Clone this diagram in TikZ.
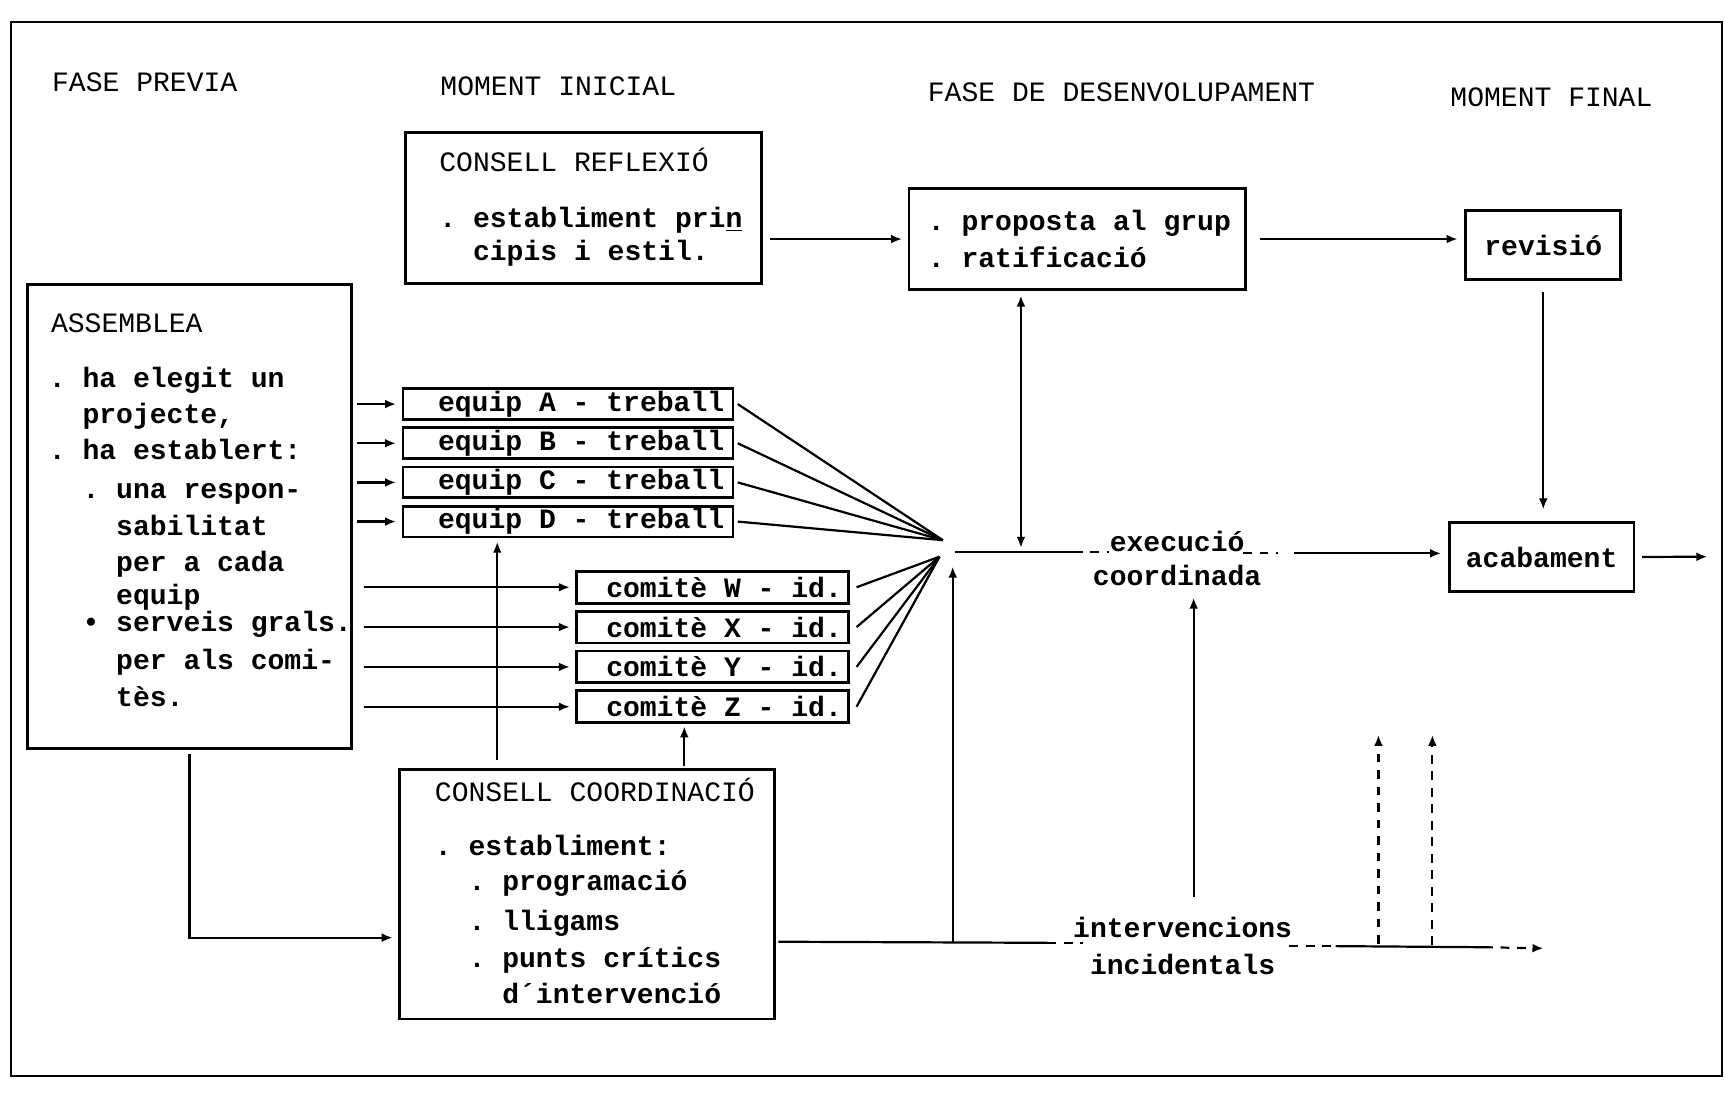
\documentclass[tikz,border=0pt]{standalone}
\usepackage{fontspec}
\setmonofont{Liberation Mono}
\usepackage{tikz}
\usetikzlibrary{positioning, arrows.meta}

\newcommand{\tw}{\fontsize{12.75}{16.5}\selectfont\ttfamily}
\newcommand{\twoch}{\hspace*{1.2em}}
\newcommand{\fourch}{\hspace*{2.4em}}

\tikzset{
  box/.style={draw, line width=1.3pt, inner sep=0pt, anchor=north west, font=\tw\bfseries},
  hdr/.style={inner sep=0pt, anchor=west, font=\tw},
  body/.style={inner sep=0pt, anchor=north west, align=left, font=\tw\bfseries},
  eqbox/.style={minimum height=14pt, text width=142pt, align=flush right, inner xsep=4pt},
  cobox/.style={minimum height=14.5pt, text width=117.5pt, align=flush right, inner xsep=3pt},
  conn/.style={line width=1pt},
  arr/.style={conn, -{Latex[length=5pt,width=4pt]}},
  dsh/.style={conn, dash pattern=on 4pt off 3.5pt},
}

\begin{document}
\begin{tikzpicture}[x=0.5pt, y=-0.5pt]
  \useasboundingbox (0,0) rectangle (1568,997);
  \draw[line width=1pt] (10,20) rectangle (1565,978);

  % phases
  \node[hdr] (hPrev) at (47,75) {FASE PREVIA};
  \node[hdr] (hIni) at (400,78) {MOMENT INICIAL};
  \node[hdr] (hDes) at (843,84) {FASE DE DESENVOLUPAMENT};
  \node[hdr] (hFin) at (1318,88) {MOMENT FINAL};

  % consell reflexio
  \node[box, minimum width=162pt, minimum height=68.5pt] (refl) at (367,119) {};
  \node[hdr] (reflH) at (399,145) {CONSELL REFLEXIÓ};
  \node[body] (reflT) at (399,188) {. establiment pri\underline{n}\\[-1.5pt]\twoch cipis i estil.};

  \node[box, minimum width=153pt, minimum height=46pt] (prop) at (825,170) {};
  \node[body] (propT) at (843,191) {. proposta al grup\\. ratificació};

  \node[box, minimum width=70.5pt, minimum height=31.5pt] (rev) at (1331,190) {revisió};
  \node[box, minimum width=84pt, minimum height=31pt] (acab) at (1316,474) {acabament};

  % assemblea
  \node[box, minimum width=147pt, minimum height=211pt] (asm) at (24,257) {};
  \node[hdr] (asmH) at (46,294) {ASSEMBLEA};
  \node[body] (asmT) at (44,333) {. ha elegit un\\
    \twoch projecte,\\
    . ha establert:\\[1pt]
    \twoch . una respon-\\[0.5pt]
    \fourch sabilitat\\
    \fourch per a cada\\[-1.5pt]
    \fourch equip\\[-4.5pt]
    \twoch • serveis grals.\\[1pt]
    \fourch per als comi-\\
    \fourch tès.};

  % equips i comites
  \node[box, eqbox] (eqA) at (365,352) {equip A - treball};
  \node[box, eqbox, below=2.5pt of eqA] (eqB) {equip B - treball};
  \node[box, eqbox, below=2.5pt of eqB] (eqC) {equip C - treball};
  \node[box, eqbox, below=2.5pt of eqC] (eqD) {equip D - treball};

  \node[box, cobox] (coW) at (523,518) {comitè W - id.};
  \node[box, cobox, below=2.3pt of coW] (coX) {comitè X - id.};
  \node[box, cobox, below=2.3pt of coX] (coY) {comitè Y - id.};
  \node[box, cobox, below=2.3pt of coY] (coZ) {comitè Z - id.};

  % consell coordinacio
  \node[box, minimum width=170.5pt, minimum height=113.5pt] (cc) at (362,698) {};
  \node[hdr] (ccH) at (395,718) {CONSELL COORDINACIÓ};
  \node[body] (ccT) at (395,759) {. establiment:\\[-0.5pt]
    \twoch . programació\\[1.5pt]
    \twoch . lligams\\[0.5pt]
    \twoch . punts crítics\\[-0.5pt]
    \fourch d´intervenció};

  % labels on the lines
  \node[align=center, inner sep=0pt, font=\tw\bfseries] (exec) at (1070,508) {execució\\[-1pt]coordinada};
  \node[align=center, inner sep=0pt, font=\tw\bfseries] (interv) at (1075,860) {intervencions\\[0.5pt]incidentals};

  \coordinate (fanE) at (857,491);
  \coordinate (fanC) at (854,506);
  \coordinate (pv) at (928,498);
  \coordinate (exA) at (868,502);
  \coordinate (exB) at (976,502);
  \coordinate (exC) at (1008,502);
  \coordinate (exD) at (1130,503);
  \coordinate (exE) at (1162,503);
  \coordinate (exF) at (1176,503);
  \coordinate (bA) at (705,856);
  \coordinate (bB) at (952,857);
  \coordinate (bD) at (984,857);
  \coordinate (bE) at (1172,860);
  \coordinate (bG) at (1214,860);
  \coordinate (bH) at (1349,861);
  \coordinate (bJ) at (1403,862);
  \coordinate (iu) at (866,856);
  \coordinate (iv) at (1085,815);
  \coordinate (ccA) at (452,691);
  \coordinate (ccB) at (622,696);
  \coordinate (d1) at (1253,858);
  \coordinate (d1t) at (1253,668);
  \coordinate (d2) at (1302,859);
  \coordinate (d2t) at (1302,668);
  \coordinate (out) at (1552,506);

  % connectors
  \draw[arr] ([xshift=3pt]refl.east |- prop.west) -- ([xshift=-2.5pt]prop.west);
  \draw[arr] ([xshift=6pt]prop.east) -- ([xshift=-3pt]rev.west |- prop.east);
  \draw[arr] ([yshift=-5pt]rev.south) -- ([yshift=5.5pt]rev.south |- acab.north);
  \draw[arr] ([xshift=3pt]acab.east) -- (out);
  \draw[conn, {Latex[length=5pt,width=4pt]}-{Latex[length=5pt,width=4pt]}] ([yshift=-2pt]pv |- prop.south) -- (pv);

  \foreach \e in {eqA, eqB, eqC, eqD} {
    \draw[arr] ([xshift=2pt]asm.east |- \e.west) -- ([xshift=-2.5pt]\e.west);
    \draw[conn] ([xshift=1.5pt]\e.east) -- (fanE);
  }
  \foreach \c in {coW, coX, coY, coZ} {
    \draw[arr] ([xshift=5pt]asm.east |- \c.west) -- ([xshift=-2.5pt]\c.west);
    \draw[conn] ([xshift=3pt]\c.east) -- (fanC);
  }

  \draw[arr] ([yshift=-2pt]asm.south) |- ([xshift=-2.5pt,yshift=-19.75pt]cc.west);
  \draw[arr, shorten >=1.5pt] (ccA) -- (ccA |- eqD.south);
  \draw[arr, shorten >=1pt] (ccB) -- (ccB |- coZ.south);

  % execucio coordinada
  \draw[conn] (exA) -- (exB);
  \draw[dsh] (exB) -- (exC);
  \draw[dsh] (exD) -- (exE);
  \draw[arr] (exF) -- ([xshift=-3pt]acab.west |- exF);
  \draw[arr] (iu) -- ([yshift=-4.5pt]iu |- fanC);
  \draw[arr] (iv) -- ([yshift=-5pt]iv |- exec.south);

  % intervencions incidentals
  \draw[conn] ([xshift=1pt]cc.east |- bA) -- (bB);
  \draw[dsh] (bB) -- (bD);
  \draw[dsh] (bE) -- (bG);
  \draw[conn] (bG) -- (bH);
  \draw[dsh, -{Latex[length=5pt,width=4pt]}] (bH) -- (bJ);
  \draw[dsh, -{Latex[length=5pt,width=4pt]}] (d1) -- (d1t);
  \draw[dsh, -{Latex[length=5pt,width=4pt]}] (d2) -- (d2t);
\end{tikzpicture}
\end{document}
